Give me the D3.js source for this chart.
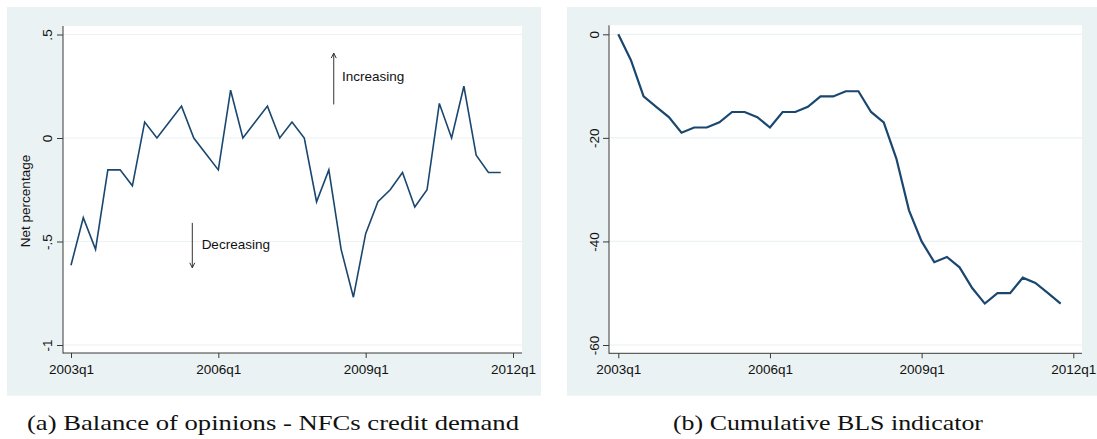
<!DOCTYPE html>
<html>
<head>
<meta charset="utf-8">
<script src="https://cdn.jsdelivr.net/npm/d3@7"></script>
<style>
  html, body { margin: 0; padding: 0; background: #ffffff; }
  svg { display: block; }
</style>
</head>
<body>
<svg id="chart" width="1097" height="439"></svg>
<script>
// ---------------- DATA ----------------
const quarters = [
  "2003q1","2003q2","2003q3","2003q4","2004q1","2004q2","2004q3","2004q4",
  "2005q1","2005q2","2005q3","2005q4","2006q1","2006q2","2006q3","2006q4",
  "2007q1","2007q2","2007q3","2007q4","2008q1","2008q2","2008q3","2008q4",
  "2009q1","2009q2","2009q3","2009q4","2010q1","2010q2","2010q3","2010q4",
  "2011q1","2011q2","2011q3","2011q4"
];
// (a) Balance of opinions - NFCs credit demand (net percentage)
const netPercentage = [
  -0.615, -0.385, -0.538, -0.154, -0.154, -0.231, 0.077, 0.000,
   0.077,  0.154,  0.000, -0.077, -0.154,  0.231, 0.000, 0.077,
   0.154,  0.000,  0.077,  0.000, -0.308, -0.154, -0.538, -0.769,
  -0.462, -0.308, -0.250, -0.167, -0.333, -0.250, 0.167, 0.000,
   0.250, -0.083, -0.167, -0.167
];
// (b) Cumulative BLS indicator
const cumulativeBLS = [
    0,  -5, -12, -14, -16, -19, -18, -18,
  -17, -15, -15, -16, -18, -15, -15, -14,
  -12, -12, -11, -11, -15, -17, -24, -34,
  -40, -44, -43, -45, -49, -52, -50, -50,
  -47, -48, -50, -52
];
const xTickIndex = [0, 12, 24, 36];
const xTickLabels = ["2003q1", "2006q1", "2009q1", "2012q1"];
const yTicksA = [-1, -0.5, 0, 0.5];
const yTickLabelsA = ["-1", "-.5", "0", ".5"];
const yTicksB = [-60, -40, -20, 0];
const yTickLabelsB = ["-60", "-40", "-20", "0"];
const yTitleA = "Net percentage";
// annotations: arrow at quarter index x from value to value (tip); text at (tx, ty)
const arrowsA = [
  { x: 21.4, from: 0.162, to: 0.410, text: "Increasing", tx: 22.08, ty: 0.273 },
  { x: 9.88, from: -0.410, to: -0.627, text: "Decreasing", tx: 10.64, ty: -0.535 }
];
const captions = [
  "(a) Balance of opinions - NFCs credit demand",
  "(b) Cumulative BLS indicator"
];

// ---------------- STYLE / LAYOUT ----------------
const BG = "#eaf2f3";
const LINE = "#1a476f";
const AXIS = "#3a3a3a";
const FONT = "'Liberation Sans', Arial, sans-serif";
const FS = 13.5;

const svg = d3.select("#chart");

const panels = [
  {
    bg: [7, 7, 541, 395.7],
    plot: [63, 26, 522, 353],
    xRange: [71, 513],
    yDomain: [-1, 0.5], yRange: [345, 34.5],
    yTicks: yTicksA, yLabels: yTickLabelsA,
    labelOffset: -11,
    values: netPercentage, lw: 1.6,
    title: yTitleA, arrows: arrowsA,
    caption: captions[0], capX: 27, capW: 492
  },
  {
    bg: [567, 7, 1097, 395.7],
    plot: [609, 25.3, 1082, 353.3],
    xRange: [618.3, 1073.3],
    yDomain: [-60, 0], yRange: [345, 34.3],
    yTicks: yTicksB, yLabels: yTickLabelsB,
    labelOffset: -10,
    values: cumulativeBLS, lw: 2.2,
    title: null, arrows: [],
    caption: captions[1], capX: 673, capW: 310
  }
];

panels.forEach(p => {
  const g = svg.append("g");
  g.append("rect")
    .attr("x", p.bg[0]).attr("y", p.bg[1])
    .attr("width", p.bg[2] - p.bg[0]).attr("height", p.bg[3] - p.bg[1])
    .attr("fill", BG);
  g.append("rect")
    .attr("x", p.plot[0]).attr("y", p.plot[1])
    .attr("width", p.plot[2] - p.plot[0]).attr("height", p.plot[3] - p.plot[1])
    .attr("fill", "#ffffff");

  const x = d3.scaleLinear().domain([0, 36]).range(p.xRange);
  const y = d3.scaleLinear().domain(p.yDomain).range(p.yRange);

  g.append("g").selectAll("line").data(p.yTicks).join("line")
    .attr("x1", p.plot[0]).attr("x2", p.plot[2])
    .attr("y1", d => y(d)).attr("y2", d => y(d))
    .attr("stroke", BG).attr("stroke-width", 1.2);

  const yAxis = d3.axisLeft(y).tickValues(p.yTicks)
    .tickFormat((d, i) => p.yLabels[i]).tickSize(6).tickSizeOuter(0);
  const ya = g.append("g").attr("transform", `translate(${p.plot[0]},0)`).call(yAxis);
  ya.attr("font-size", null).attr("font-family", null);
  ya.select(".domain").remove();
  ya.selectAll(".tick line").attr("stroke", AXIS);
  ya.selectAll(".tick text")
    .attr("x", null).attr("dy", null)
    .attr("transform", `translate(${p.labelOffset},0) rotate(-90)`)
    .attr("text-anchor", "middle")
    .style("font-family", FONT).style("font-size", FS + "px").attr("fill", "#111");

  const xAxis = d3.axisBottom(x).tickValues(xTickIndex)
    .tickFormat((d, i) => xTickLabels[i]).tickSize(5).tickSizeOuter(0);
  const xa = g.append("g").attr("transform", `translate(0,${p.plot[3]})`).call(xAxis);
  xa.attr("font-size", null).attr("font-family", null);
  xa.select(".domain").remove();
  xa.selectAll(".tick line").attr("stroke", AXIS);
  xa.selectAll(".tick text")
    .attr("y", 21).attr("dy", null)
    .style("font-family", FONT).style("font-size", FS + "px").attr("fill", "#111");

  g.append("line")
    .attr("x1", p.plot[0]).attr("x2", p.plot[0])
    .attr("y1", p.plot[1]).attr("y2", p.plot[3] + 0.5)
    .attr("stroke", AXIS).attr("stroke-width", 1);
  g.append("line")
    .attr("x1", p.plot[0]).attr("x2", p.plot[2])
    .attr("y1", p.plot[3]).attr("y2", p.plot[3])
    .attr("stroke", AXIS).attr("stroke-width", 1);

  const line = d3.line().x((d, i) => x(i)).y(d => y(d));
  g.append("path").datum(p.values)
    .attr("d", line)
    .attr("fill", "none")
    .attr("stroke", LINE)
    .attr("stroke-width", p.lw)
    .attr("stroke-linejoin", "miter");

  if (p.title) {
    g.append("text")
      .attr("transform", `translate(30,201) rotate(-90)`)
      .attr("text-anchor", "middle")
      .style("font-family", FONT).style("font-size", FS + "px").attr("fill", "#111")
      .text(p.title);
  }

  p.arrows.forEach(a => {
    const ax = x(a.x), y0 = y(a.from), y1 = y(a.to);
    const dir = y1 < y0 ? 1 : -1;
    g.append("line")
      .attr("x1", ax).attr("x2", ax).attr("y1", y0).attr("y2", y1)
      .attr("stroke", "#333").attr("stroke-width", 1);
    g.append("path")
      .attr("d", `M${ax - 2.5},${y1 + dir * 5} L${ax},${y1} L${ax + 2.5},${y1 + dir * 5}`)
      .attr("fill", "none").attr("stroke", "#333").attr("stroke-width", 1);
    g.append("text")
      .attr("x", x(a.tx)).attr("y", y(a.ty))
      .style("font-family", FONT).style("font-size", FS + "px").attr("fill", "#111")
      .text(a.text);
  });

  svg.append("text")
    .attr("x", p.capX).attr("y", 430)
    .attr("font-family", "'Liberation Serif', 'Times New Roman', serif")
    .attr("font-size", 21.5)
    .attr("fill", "#111")
    .attr("textLength", p.capW)
    .attr("lengthAdjust", "spacingAndGlyphs")
    .text(p.caption);
});
</script>
</body>
</html>
